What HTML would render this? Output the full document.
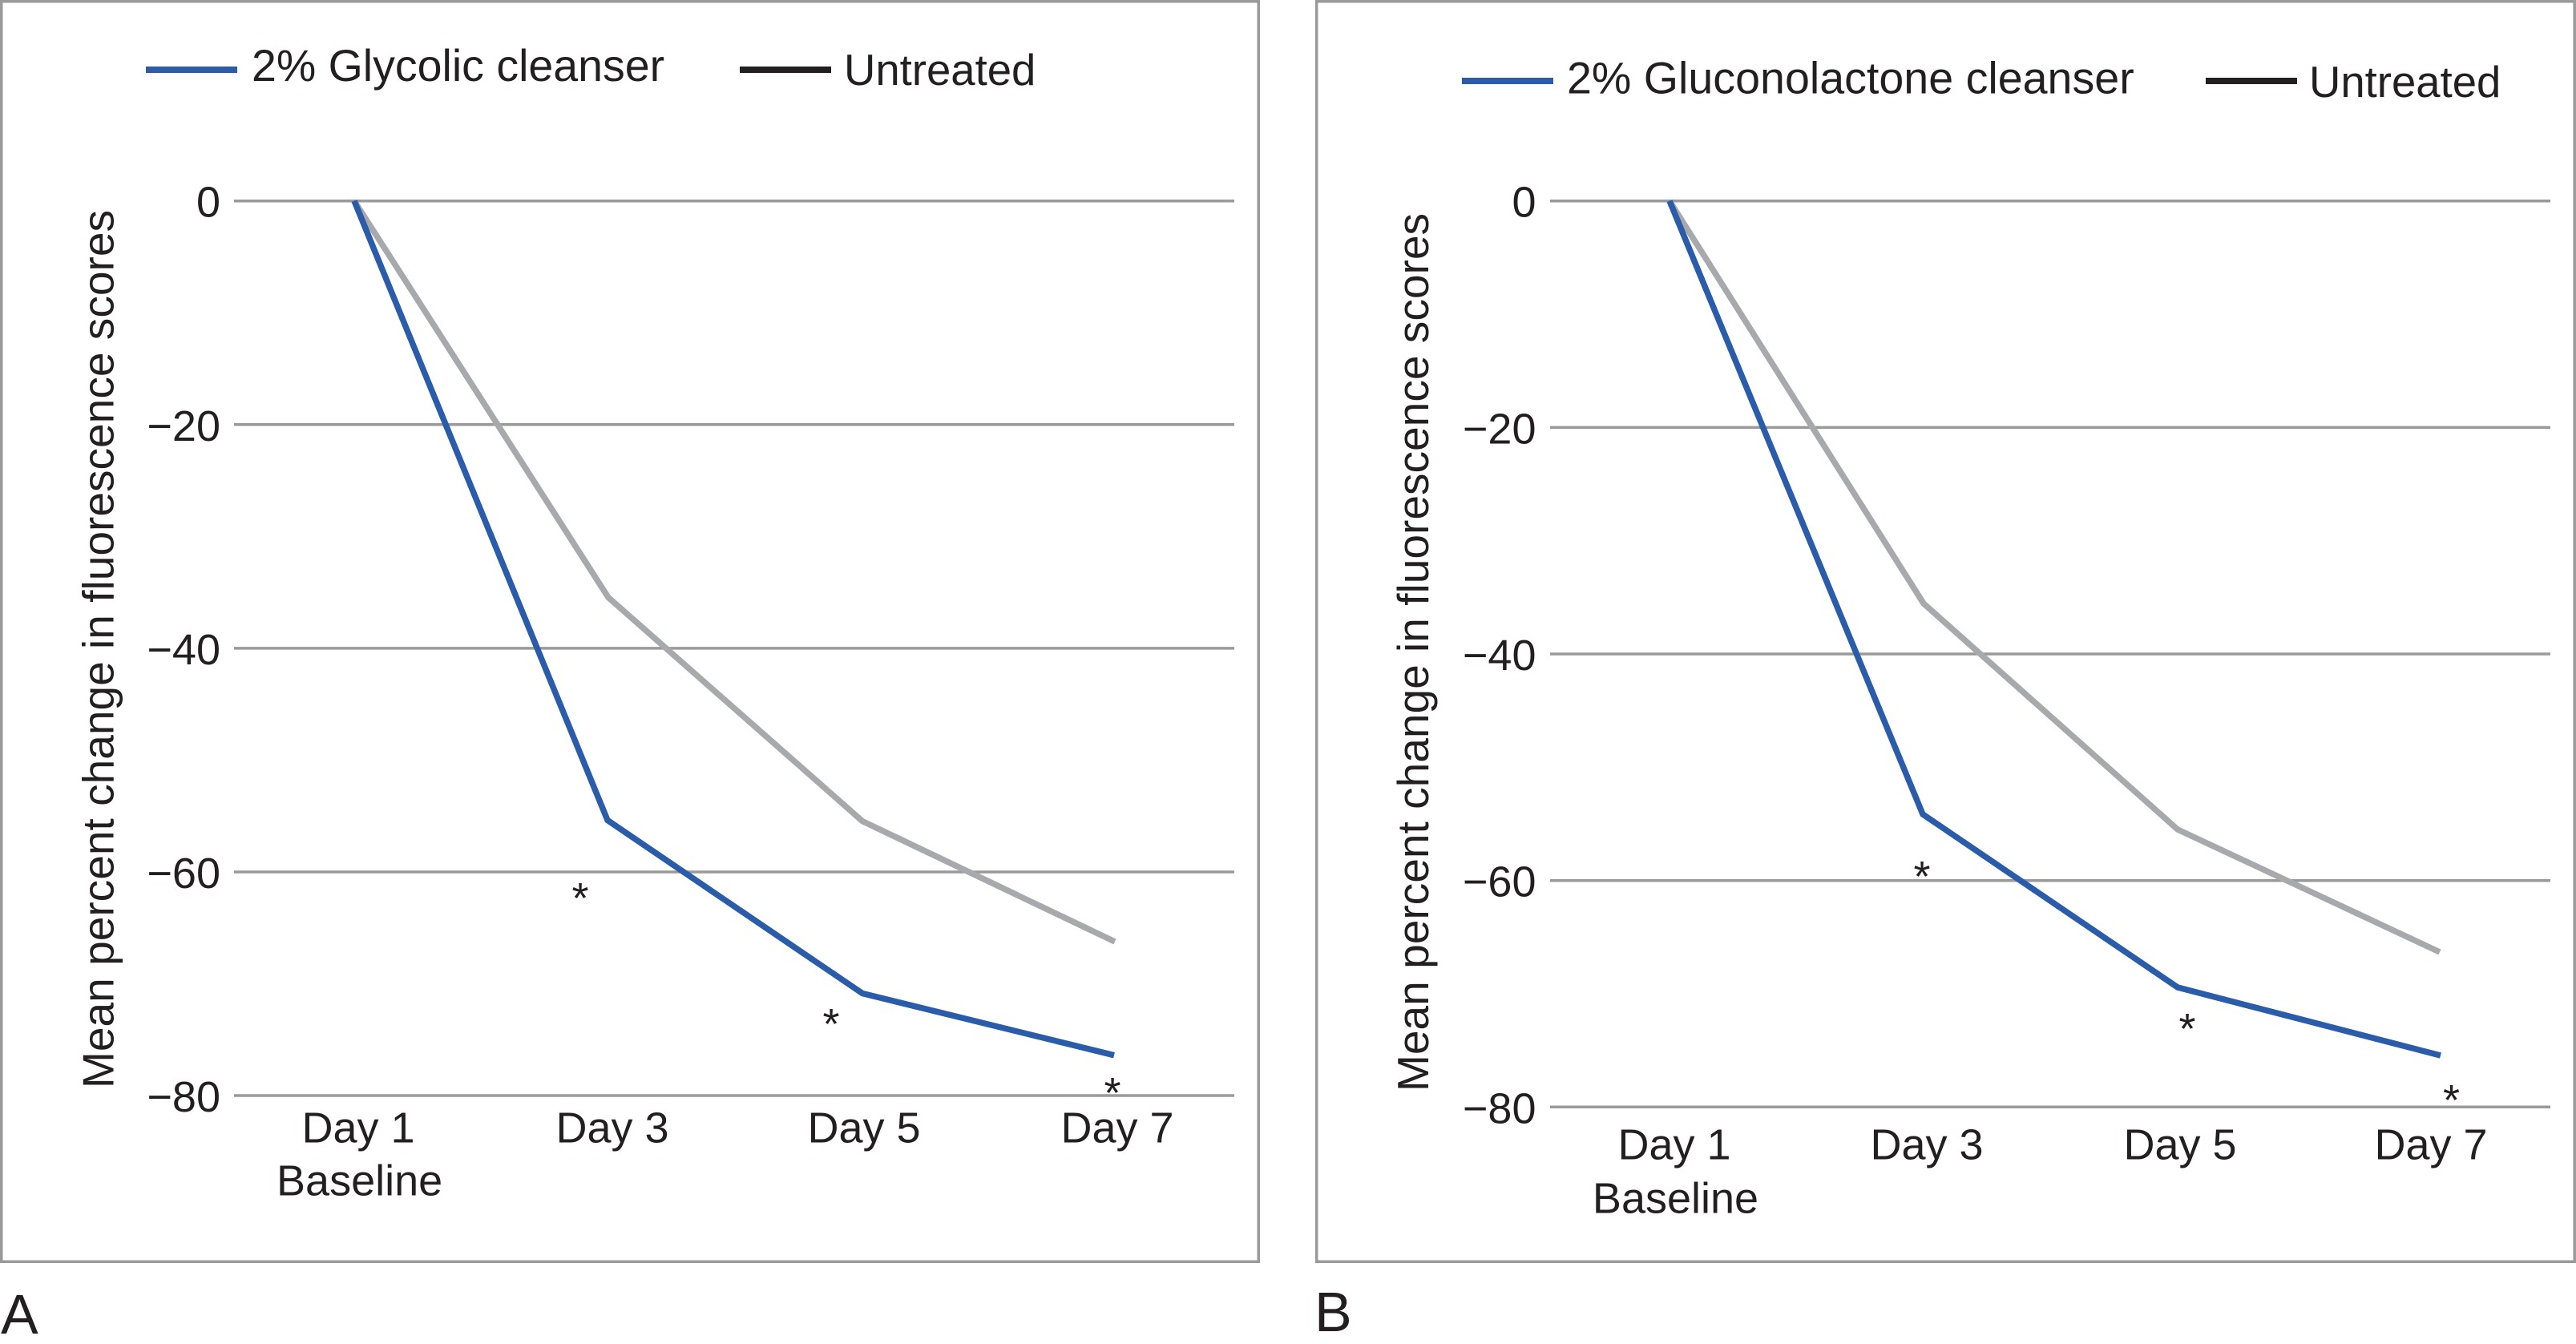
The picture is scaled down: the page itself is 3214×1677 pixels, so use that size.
<!DOCTYPE html>
<html>
<head>
<meta charset="utf-8">
<style>
  html, body { margin:0; padding:0; background:#ffffff; }
  body { width:3214px; height:1677px; overflow:hidden; }
  svg { display:block; }
  text { font-family: "Liberation Sans", Arial, Helvetica, sans-serif; fill:#231f20; }
</style>
</head>
<body>
<svg width="3214" height="1677" viewBox="0 0 3214 1677" xmlns="http://www.w3.org/2000/svg">
  <rect x="0" y="0" width="3214" height="1677" fill="#ffffff"/>

  <!-- ================= PANEL A ================= -->
  <rect x="1.75" y="1.75" width="1568.5" height="1572.5" fill="none" stroke="#9a9a9a" stroke-width="3.5"/>

  <!-- legend A -->
  <line x1="182" y1="87" x2="296" y2="87" stroke="#2a5caa" stroke-width="8"/>
  <text x="314" y="101" font-size="55.5">2% Glycolic cleanser</text>
  <line x1="923" y1="87" x2="1037" y2="87" stroke="#231f20" stroke-width="8"/>
  <text x="1053" y="106" font-size="54.5">Untreated</text>

  <!-- gridlines A -->
  <g stroke="#9a9a9a" stroke-width="3.5">
    <line x1="292" y1="250.7" x2="1540" y2="250.7"/>
    <line x1="292" y1="529.8" x2="1540" y2="529.8"/>
    <line x1="292" y1="808.9" x2="1540" y2="808.9"/>
    <line x1="292" y1="1088" x2="1540" y2="1088"/>
    <line x1="292" y1="1367" x2="1540" y2="1367"/>
  </g>

  <!-- y ticks A -->
  <g font-size="54" text-anchor="end">
    <text x="275" y="270.7">0</text>
    <text x="275" y="549.8">−20</text>
    <text x="275" y="828.9">−40</text>
    <text x="275" y="1108">−60</text>
    <text x="275" y="1387">−80</text>
  </g>

  <!-- y title A -->
  <text transform="translate(141.7,810) rotate(-90)" x="0" y="0" font-size="55" text-anchor="middle" textLength="1096" lengthAdjust="spacingAndGlyphs">Mean percent change in fluorescence scores</text>

  <!-- x labels A -->
  <g font-size="54" text-anchor="middle">
    <text x="447" y="1425.7">Day 1</text>
    <text x="448.6" y="1491.7">Baseline</text>
    <text x="764" y="1425.7">Day 3</text>
    <text x="1078" y="1425.7">Day 5</text>
    <text x="1394" y="1425.7">Day 7</text>
  </g>

  <!-- series A -->
  <polyline points="442,250.7 759,745.5 1076,1024.6 1391,1175" fill="none" stroke="#a8a9ac" stroke-width="7.5" stroke-linejoin="miter"/>
  <polyline points="442,250.7 758,1023.5 1076,1239.5 1390,1316.7" fill="none" stroke="#2a5caa" stroke-width="7.5" stroke-linejoin="miter"/>

  <!-- asterisks A -->
  <g font-size="54" text-anchor="middle">
    <text x="724" y="1139">*</text>
    <text x="1037" y="1296">*</text>
    <text x="1388" y="1382">*</text>
  </g>

  <text x="1" y="1664" font-size="70">A</text>

  <!-- ================= PANEL B ================= -->
  <rect x="1642.7" y="1.75" width="1569.5" height="1572.5" fill="none" stroke="#9a9a9a" stroke-width="3.5"/>

  <!-- legend B -->
  <line x1="1824" y1="101" x2="1938" y2="101" stroke="#2a5caa" stroke-width="8"/>
  <text x="1955" y="116.7" font-size="55.6">2% Gluconolactone cleanser</text>
  <line x1="2752" y1="101" x2="2866" y2="101" stroke="#231f20" stroke-width="8"/>
  <text x="2881" y="121" font-size="54.5">Untreated</text>

  <!-- gridlines B -->
  <g stroke="#9a9a9a" stroke-width="3.5">
    <line x1="1934" y1="250.7" x2="3182" y2="250.7"/>
    <line x1="1934" y1="533.4" x2="3182" y2="533.4"/>
    <line x1="1934" y1="816" x2="3182" y2="816"/>
    <line x1="1934" y1="1098.7" x2="3182" y2="1098.7"/>
    <line x1="1934" y1="1381.3" x2="3182" y2="1381.3"/>
  </g>

  <!-- y ticks B -->
  <g font-size="54" text-anchor="end">
    <text x="1916.5" y="270.7">0</text>
    <text x="1916.5" y="553.4">−20</text>
    <text x="1916.5" y="836">−40</text>
    <text x="1916.5" y="1118.7">−60</text>
    <text x="1916.5" y="1401.3">−80</text>
  </g>

  <!-- y title B -->
  <text transform="translate(1782,814) rotate(-90)" x="0" y="0" font-size="55" text-anchor="middle" textLength="1096" lengthAdjust="spacingAndGlyphs">Mean percent change in fluorescence scores</text>

  <!-- x labels B -->
  <g font-size="54" text-anchor="middle">
    <text x="2089" y="1446.7">Day 1</text>
    <text x="2090.5" y="1513.3">Baseline</text>
    <text x="2404" y="1446.7">Day 3</text>
    <text x="2720" y="1446.7">Day 5</text>
    <text x="3033" y="1446.7">Day 7</text>
  </g>

  <!-- series B -->
  <polyline points="2083,250.7 2400,753 2717,1035 3044,1188" fill="none" stroke="#a8a9ac" stroke-width="7.5" stroke-linejoin="miter"/>
  <polyline points="2083,250.7 2399,1016 2717,1232 3045,1317" fill="none" stroke="#2a5caa" stroke-width="7.5" stroke-linejoin="miter"/>

  <!-- asterisks B -->
  <g font-size="54" text-anchor="middle">
    <text x="2398" y="1112">*</text>
    <text x="2729" y="1302">*</text>
    <text x="3058.5" y="1391">*</text>
  </g>

  <text x="1640" y="1661" font-size="70">B</text>
</svg>
</body>
</html>
